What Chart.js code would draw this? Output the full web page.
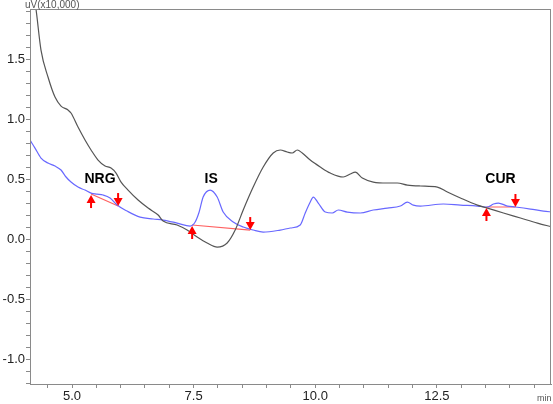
<!DOCTYPE html>
<html lang="en">
<head>
<meta charset="UTF-8">
<title>Chromatogram</title>
<script src="https://cdn.jsdelivr.net/npm/chart.js@4"></script>
<style>
  html, body { margin: 0; padding: 0; background: #fff; }
</style>
</head>
<body>
<canvas id="chart" width="553" height="404"></canvas>
<script>
// black trace (retention time in min, signal in uV x10,000)
const blackX = [4.198, 4.259, 4.362, 4.506, 4.650, 4.774, 4.918, 4.979, 5.123, 5.267, 5.391, 5.535, 5.679, 5.802,
  5.905, 6.008, 6.152, 6.358, 6.564, 6.770, 6.872, 7.160, 7.366, 7.572, 7.778, 7.984, 8.189, 8.354, 8.519,
  8.724, 8.930, 9.136, 9.280, 9.424, 9.527, 9.630, 9.733, 9.897, 10.103, 10.309, 10.576, 10.720, 10.823,
  10.967, 11.193, 11.481, 11.687, 11.893, 12.160, 12.510, 12.716, 12.984, 13.333, 13.539, 13.868, 14.218,
  14.568, 14.877];
const blackY = [2.075, 1.917, 1.575, 1.350, 1.183, 1.108, 1.075, 1.050, 0.933, 0.825, 0.742, 0.658, 0.608, 0.592,
  0.550, 0.475, 0.408, 0.325, 0.258, 0.200, 0.150, 0.117, 0.075, 0.017, -0.033, -0.067, -0.033, 0.075, 0.242,
  0.433, 0.600, 0.717, 0.742, 0.725, 0.717, 0.742, 0.717, 0.658, 0.600, 0.550, 0.517, 0.542, 0.558,
  0.508, 0.475, 0.467, 0.467, 0.450, 0.442, 0.433, 0.392, 0.342, 0.283, 0.258, 0.217, 0.175,
  0.133, 0.100];

// blue trace
const blueX = [4.136, 4.239, 4.362, 4.506, 4.650, 4.774, 4.877, 4.979, 5.123, 5.267, 5.391, 5.514, 5.638, 5.782,
  5.926, 6.132, 6.399, 6.667, 6.872, 7.160, 7.428, 7.531, 7.613, 7.695, 7.840, 7.984, 8.107, 8.313, 8.519,
  8.724, 8.930, 9.280, 9.486, 9.691, 9.794, 9.897, 9.959, 10.062, 10.206, 10.350, 10.473, 10.658, 10.926,
  11.193, 11.481, 11.749, 11.893, 12.016, 12.160, 12.634, 12.984, 13.333, 13.539, 13.663, 13.765, 13.951,
  14.115, 14.424, 14.691, 14.877];
const blueY = [0.825, 0.758, 0.675, 0.633, 0.608, 0.575, 0.517, 0.475, 0.433, 0.408, 0.383, 0.375, 0.367, 0.342,
  0.283, 0.233, 0.183, 0.167, 0.158, 0.133, 0.108, 0.142, 0.225, 0.350, 0.408, 0.350, 0.225, 0.142, 0.100,
  0.075, 0.058, 0.075, 0.092, 0.117, 0.217, 0.308, 0.350, 0.300, 0.225, 0.217, 0.242, 0.225, 0.217,
  0.242, 0.258, 0.275, 0.308, 0.283, 0.275, 0.292, 0.283, 0.275, 0.267, 0.292, 0.300, 0.275,
  0.267, 0.250, 0.233, 0.225];

// integration baselines (start = up arrow, end = down arrow)
const peakNames = ['NRG', 'IS', 'CUR'];
const baseStartX = [5.391, 7.469, 13.519];
const baseStartY = [0.375, 0.117, 0.267];
const baseEndX = [5.947, 8.663, 14.115];
const baseEndY = [0.275, 0.075, 0.267];
const labelX = [5.576, 7.860, 13.807];
const labelY = [0.50, 0.50, 0.50];

// axes
const xMin = 4.136, xMax = 14.846;
const yMin = -1.208, yMax = 1.917;
const xLabelled = [5.0, 7.5, 10.0, 12.5];
const yLabelled = [-1.0, -0.5, 0.0, 0.5, 1.0, 1.5];

const xTicks = [];
for (let v = 4.5; v <= 14.5001; v += 0.5) xTicks.push(Math.round(v * 10) / 10);
const yTicks = [];
for (let v = -1.2; v <= 1.9001; v += 0.1) yTicks.push(Math.round(v * 10) / 10);

const has = (list, v) => list.some(t => Math.abs(t - v) < 1e-6);

const baselineData = [];
baseStartX.forEach((x, i) => {
    baselineData.push({ x: x, y: baseStartY[i] });
    baselineData.push({ x: baseEndX[i], y: baseEndY[i] });
    baselineData.push({ x: baseEndX[i] + 0.01, y: null });
});

function drawArrow(ctx, px, py, up) {
    const d = up ? 1 : -1;
    ctx.fillStyle = '#ff0000';
    ctx.strokeStyle = '#ff0000';
    ctx.lineWidth = 2;
    ctx.beginPath();
    ctx.moveTo(px, py + d * 7);
    ctx.lineTo(px, py + d * 13);
    ctx.stroke();
    ctx.beginPath();
    ctx.moveTo(px, py);
    ctx.lineTo(px - 4.5, py + d * 8);
    ctx.lineTo(px + 4.5, py + d * 8);
    ctx.closePath();
    ctx.fill();
}

const decorations = {
    id: 'decorations',
    afterDatasetsDraw(chart) {
        const ctx = chart.ctx;
        const xs = chart.scales.x, ys = chart.scales.y;
        ctx.save();
        baseStartX.forEach((x, i) => {
            drawArrow(ctx, xs.getPixelForValue(x), ys.getPixelForValue(baseStartY[i]) + 1, true);
            drawArrow(ctx, xs.getPixelForValue(baseEndX[i]), ys.getPixelForValue(baseEndY[i]), false);
        });
        ctx.fillStyle = '#000';
        ctx.font = 'bold 14px "Liberation Sans", Arial, sans-serif';
        ctx.textAlign = 'center';
        ctx.textBaseline = 'middle';
        peakNames.forEach((name, i) => {
            ctx.fillText(name, xs.getPixelForValue(labelX[i]), ys.getPixelForValue(labelY[i]));
        });
        ctx.restore();
    },
    afterDraw(chart) {
        const ctx = chart.ctx;
        const a = chart.chartArea;
        ctx.save();
        ctx.strokeStyle = '#8a8a8a';
        ctx.lineWidth = 1;
        ctx.strokeRect(a.left + 0.5, a.top + 0.5, a.right - a.left - 1, a.bottom - a.top);
        ctx.fillStyle = '#555';
        ctx.font = '10px "Liberation Sans", Arial, sans-serif';
        ctx.textAlign = 'left';
        ctx.textBaseline = 'alphabetic';
        ctx.fillText('uV(x10,000)', 25, 8);
        ctx.font = '9px "Liberation Sans", Arial, sans-serif';
        ctx.fillText('min', 537, 401);
        ctx.restore();
    }
};

new Chart(document.getElementById('chart'), {
    type: 'line',
    data: {
        datasets: [
            {
                data: blackX.map((x, i) => ({ x: x, y: blackY[i] })),
                borderColor: '#555555',
                borderWidth: 1.2,
                pointRadius: 0,
                cubicInterpolationMode: 'monotone'
            },
            {
                data: blueX.map((x, i) => ({ x: x, y: blueY[i] })),
                borderColor: '#6868ff',
                borderWidth: 1.2,
                pointRadius: 0,
                cubicInterpolationMode: 'monotone'
            },
            {
                data: baselineData,
                borderColor: '#ff6060',
                borderWidth: 1.2,
                pointRadius: 0,
                spanGaps: false,
                tension: 0
            }
        ]
    },
    options: {
        responsive: false,
        animation: false,
        layout: { padding: { top: 9, right: 2, left: 0, bottom: 0 } },
        plugins: { legend: { display: false }, tooltip: { enabled: false } },
        scales: {
            x: {
                type: 'linear',
                min: xMin,
                max: xMax,
                afterBuildTicks: s => { s.ticks = xTicks.map(v => ({ value: v })); },
                afterFit: s => { s.height = 20; },
                ticks: {
                    autoSkip: false,
                    maxRotation: 0,
                    padding: 1,
                    color: '#222',
                    font: { family: '"Liberation Sans", Arial, sans-serif', size: 13 },
                    callback: v => has(xLabelled, v) ? v.toFixed(1) : ''
                },
                grid: { drawOnChartArea: false, tickLength: 4, color: '#8a8a8a' },
                border: { color: '#8a8a8a' }
            },
            y: {
                type: 'linear',
                min: yMin,
                max: yMax,
                afterBuildTicks: s => { s.ticks = yTicks.map(v => ({ value: v })); },
                afterFit: s => { s.width = 30; },
                ticks: {
                    autoSkip: false,
                    padding: 1,
                    color: '#222',
                    font: { family: '"Liberation Sans", Arial, sans-serif', size: 13 },
                    callback: v => has(yLabelled, v) ? v.toFixed(1) : ''
                },
                grid: { drawOnChartArea: false, tickLength: 4, color: '#8a8a8a' },
                border: { color: '#8a8a8a' }
            }
        }
    },
    plugins: [decorations]
});
</script>
</body>
</html>
